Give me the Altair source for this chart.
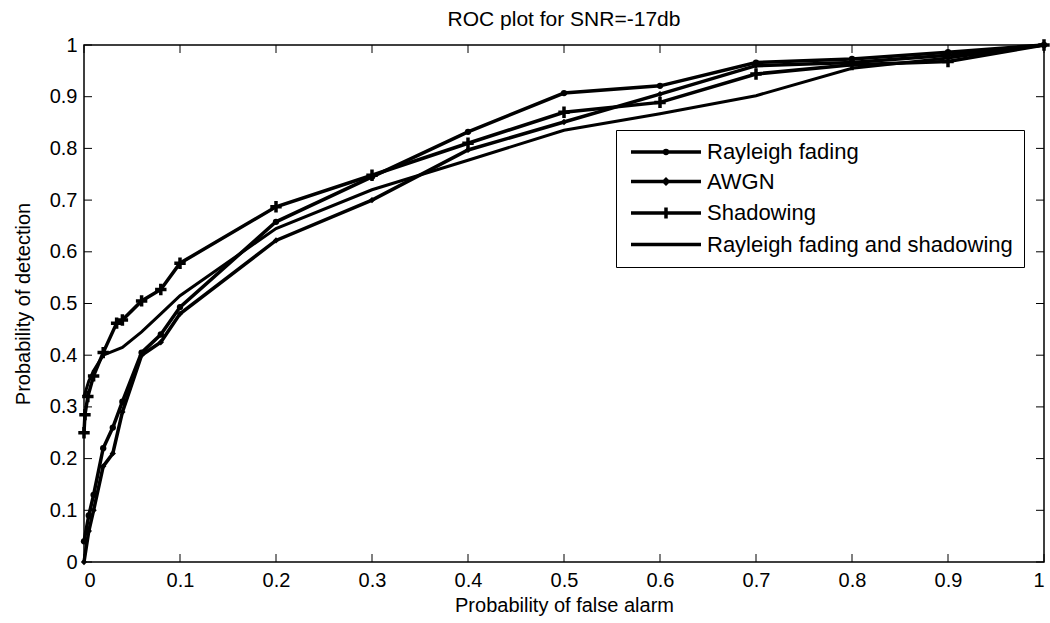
import altair as alt
import pandas as pd

SERIES = ["Rayleigh fading", "AWGN", "Shadowing", "Rayleigh fading and shadowing"]

RF_X = [0, 0.005, 0.01, 0.02, 0.03, 0.04, 0.06, 0.08, 0.1, 0.2, 0.3, 0.4, 0.5, 0.6, 0.7, 0.8, 0.9, 1.0]
RF_Y = [0.04, 0.09, 0.13, 0.22, 0.26, 0.31, 0.405, 0.44, 0.493, 0.658, 0.745, 0.832, 0.907, 0.921, 0.966, 0.973, 0.986, 1.0]

AWGN_X = [0, 0.005, 0.01, 0.02, 0.03, 0.04, 0.06, 0.08, 0.1, 0.2, 0.3, 0.4, 0.5, 0.6, 0.7, 0.8, 0.9, 1.0]
AWGN_Y = [0.0, 0.06, 0.10, 0.185, 0.21, 0.29, 0.40, 0.425, 0.48, 0.622, 0.70, 0.797, 0.851, 0.905, 0.96, 0.966, 0.98, 1.0]

SH_X = [0, 0.001, 0.004, 0.01, 0.02, 0.034, 0.04, 0.06, 0.08, 0.1, 0.2, 0.3, 0.4, 0.5, 0.6, 0.7, 0.8, 0.9, 1.0]
SH_Y = [0.25, 0.285, 0.32, 0.36, 0.405, 0.462, 0.468, 0.505, 0.527, 0.578, 0.687, 0.748, 0.81, 0.87, 0.889, 0.944, 0.962, 0.968, 1.0]

RFS_X = [0, 0.005, 0.01, 0.02, 0.04, 0.06, 0.08, 0.1, 0.2, 0.3, 0.4, 0.5, 0.6, 0.7, 0.8, 0.9, 1.0]
RFS_Y = [0.32, 0.35, 0.37, 0.40, 0.415, 0.445, 0.48, 0.515, 0.645, 0.72, 0.777, 0.835, 0.867, 0.902, 0.955, 0.975, 1.0]

TICKS = [0, 0.1, 0.2, 0.3, 0.4, 0.5, 0.6, 0.7, 0.8, 0.9, 1.0]

rows = []
for name, xs, ys in [(SERIES[0], RF_X, RF_Y), (SERIES[1], AWGN_X, AWGN_Y),
                     (SERIES[2], SH_X, SH_Y), (SERIES[3], RFS_X, RFS_Y)]:
    for x, y in zip(xs, ys):
        rows.append({"series": name, "pfa": x, "pd": y})
df = pd.DataFrame(rows)
ticks_df = pd.DataFrame({"pfa": TICKS, "pd": TICKS})

W, H = 960, 517
FONT = "Liberation Sans"
xscale = alt.Scale(domain=[0, 1], nice=False, zero=False)
yscale = alt.Scale(domain=[0, 1], nice=False, zero=False)

xaxis = alt.Axis(values=TICKS, format="~g", ticks=False, domain=False, grid=False,
                 labelFont=FONT, labelFontSize=20, labelColor="black", labelPadding=8,
                 title="Probability of false alarm", titleFont=FONT, titleFontSize=20,
                 titleFontWeight="normal", titleColor="black", titlePadding=5)
yaxis = alt.Axis(values=TICKS, format="~g", ticks=False, domain=False, grid=False,
                 labelFont=FONT, labelFontSize=20, labelColor="black", labelPadding=7,
                 title="Probability of detection", titleFont=FONT, titleFontSize=20,
                 titleFontWeight="normal", titleColor="black", titlePadding=16)

X = alt.X("pfa:Q", scale=xscale, axis=xaxis)
Y = alt.Y("pd:Q", scale=yscale, axis=yaxis)

base = alt.Chart(df)

lines_marked = base.transform_filter(
    alt.FieldOneOfPredicate(field="series", oneOf=SERIES[:3])
).mark_line(color="black", strokeWidth=3.5).encode(x=X, y=Y, detail="series:N")
line_plain = base.transform_filter(
    alt.FieldEqualPredicate(field="series", equal=SERIES[3])
).mark_line(color="black", strokeWidth=3).encode(x=X, y=Y, detail="series:N")
dots = base.transform_filter(
    alt.FieldOneOfPredicate(field="series", oneOf=SERIES[:2])
).mark_point(filled=True, color="black", opacity=1).encode(
    x=X, y=Y,
    shape=alt.Shape("series:N", scale=alt.Scale(domain=SERIES[:2], range=["circle", "diamond"]), legend=None),
    size=alt.value(40),
)
plus = base.transform_filter(
    alt.FieldEqualPredicate(field="series", equal=SERIES[2])
).mark_point(filled=False, color="black", strokeWidth=3.5, opacity=1,
             shape="M-1,0H1M0,-1V1", size=130).encode(x=X, y=Y)

LEGEND_PATHS = [
    "M-5,0H5M-0.2,0A0.2,0.2,0,1,0,0.2,0A0.2,0.2,0,1,0,-0.2,0Z",
    "M-5,0H5M0,-0.3L0.3,0L0,0.3L-0.3,0Z",
    "M-5,0H5M0,-0.8V0.8",
    "M-5,0H5",
]
legend_layer = base.transform_filter(
    alt.FieldEqualPredicate(field="pfa", equal=1.0)
).mark_point(filled=False, color="black", opacity=0, strokeWidth=3, size=1).encode(
    x=X, y=Y,
    shape=alt.Shape("series:N", scale=alt.Scale(domain=SERIES, range=LEGEND_PATHS),
                    legend=alt.Legend(title=None, orient="none", legendX=532, legendY=85,
                                      fillColor="white", strokeColor="black", padding=11,
                                      symbolSize=196, symbolStrokeWidth=3.5,
                                      symbolStrokeColor="black", symbolOpacity=1,
                                      symbolOffset=28, labelOffset=30,
                                      labelFont=FONT, labelFontSize=22, labelColor="black",
                                      rowPadding=7.5, labelLimit=400)),
)

tick_bottom = alt.Chart(ticks_df).mark_rule(color="black", strokeWidth=1).encode(
    x=X, y=alt.value(H), y2=alt.value(H - 8))
tick_top = alt.Chart(ticks_df).mark_rule(color="black", strokeWidth=1).encode(
    x=X, y=alt.value(0), y2=alt.value(8))
tick_left = alt.Chart(ticks_df).mark_rule(color="black", strokeWidth=1).encode(
    y=Y, x=alt.value(0), x2=alt.value(8))
tick_right = alt.Chart(ticks_df).mark_rule(color="black", strokeWidth=1).encode(
    y=Y, x=alt.value(W), x2=alt.value(W - 8))

chart = alt.layer(
    lines_marked, line_plain, dots, plus, legend_layer,
    tick_bottom, tick_top, tick_left, tick_right,
).resolve_scale(shape="independent").properties(
    width=W, height=H,
    title=alt.TitleParams("ROC plot for SNR=-17db", font=FONT, fontSize=21,
                          fontWeight="normal", color="black", anchor="middle",
                          offset=2, frame="group"),
    padding={"left": 84, "top": 45, "right": 6, "bottom": 61},
    autosize=alt.AutoSizeParams(type="none"),
    background="white",
).configure_view(stroke="black", strokeWidth=1.5)

chart.save("out.html", embed_options={"renderer": "svg", "actions": False})
